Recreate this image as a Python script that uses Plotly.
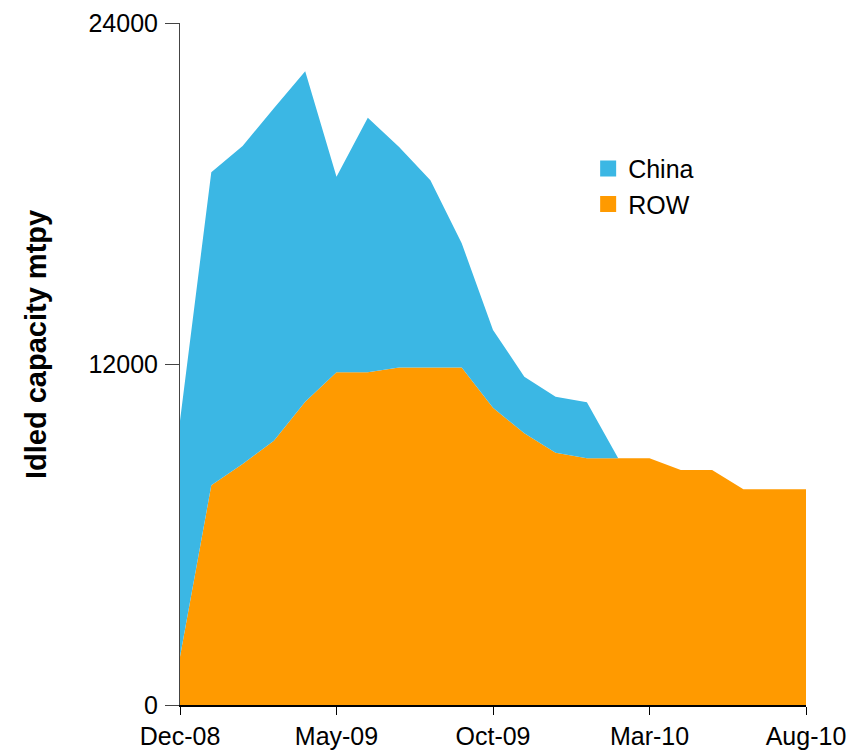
import plotly.graph_objects as go

months = ["Dec-08", "Jan-09", "Feb-09", "Mar-09", "Apr-09", "May-09", "Jun-09", "Jul-09",
          "Aug-09", "Sep-09", "Oct-09", "Nov-09", "Dec-09", "Jan-10", "Feb-10", "Mar-10",
          "Apr-10", "May-10", "Jun-10", "Jul-10", "Aug-10"]
row = [1700, 7730, 8480, 9300, 10670, 11710, 11710, 11880, 11880, 11880, 10460,
       9560, 8880, 8680, 8680, 8680, 8270, 8270, 7590, 7590, 7590]
china = [8300, 11020, 11190, 11700, 11630, 6880, 8960, 7760, 6590, 4370, 2740,
         1990, 1970, 1970, 0, 0, 0, 0, 0, 0, 0]
tick_labels = ["Dec-08", "May-09", "Oct-09", "Mar-10", "Aug-10"]
y_ticks = [0, 12000, 24000]

BLUE = "#3BB7E4"
ORANGE = "#FF9A00"
FONT = "Liberation Sans"

fig = go.Figure()
fig.add_trace(go.Scatter(x=months, y=row, name="ROW", stackgroup="one", mode="none",
                         fillcolor=ORANGE, line=dict(width=0), showlegend=False))
fig.add_trace(go.Scatter(x=months, y=china, name="China", stackgroup="one", mode="none",
                         fillcolor=BLUE, line=dict(width=0), showlegend=False))
# legend entries with square swatches
fig.add_trace(go.Scatter(x=[None], y=[None], name="China", mode="markers",
                         marker=dict(symbol="square", size=21, color=BLUE),
                         legendgroup="a", showlegend=True))
fig.add_trace(go.Scatter(x=[None], y=[None], name="ROW", mode="markers",
                         marker=dict(symbol="square", size=21, color=ORANGE),
                         legendgroup="b", showlegend=True))

pw, ph = 863 - 180 - 57, 753 - 23 - 48
fig.update_layout(
    width=863, height=753,
    margin=dict(l=180, r=57, t=23, b=48),
    paper_bgcolor="white", plot_bgcolor="white",
    font=dict(family=FONT, size=25, color="black"),
    showlegend=True,
    legend=dict(x=0.652, y=0.82, xanchor="left", yanchor="top", traceorder="normal",
                font=dict(size=25, family=FONT), bgcolor="rgba(0,0,0,0)", itemwidth=30,
                tracegroupgap=15),
    annotations=[dict(text="<b>Idled capacity mtpy</b>", textangle=-90,
                      x=(36 - 180) / pw, y=(705 - 345) / ph, xref="paper", yref="paper",
                      xanchor="center", yanchor="middle", showarrow=False,
                      font=dict(size=29, family=FONT))],
)

fig.update_xaxes(
    type="category", range=[0, len(months) - 1], automargin=False,
    tickmode="array", tickvals=tick_labels, ticktext=tick_labels,
    showline=True, linecolor="black", linewidth=1.5,
    ticks="outside", ticklen=8, tickcolor="black",
    showgrid=False, zeroline=False, tickfont=dict(size=25, family=FONT),
)
fig.update_yaxes(
    range=[0, 24000], tickvals=y_ticks, ticktext=[str(v) for v in y_ticks], automargin=False,
    showline=True, linecolor="#444", linewidth=1,
    ticks="outside", ticklen=14, tickcolor="#444", ticklabelstandoff=2,
    showgrid=False, zeroline=False, tickfont=dict(size=25, family=FONT),
)
fig.write_html("out.html")
